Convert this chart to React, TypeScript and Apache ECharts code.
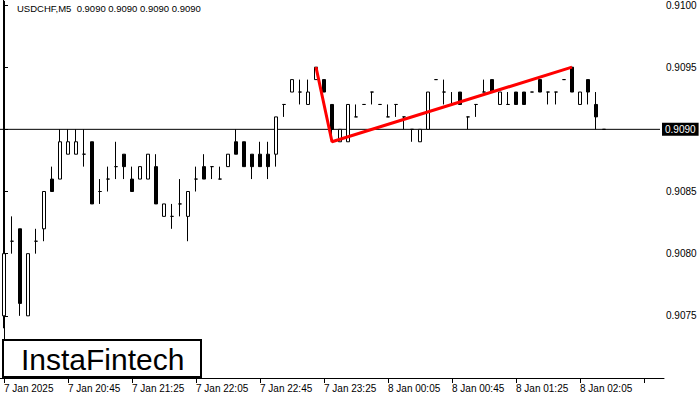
import React, { useEffect, useRef } from "react";
import * as echarts from "echarts";

const FONT = "'Liberation Sans', Arial, sans-serif";

const tickLabels = [
  "7 Jan 2025", "7 Jan 20:45", "7 Jan 21:25", "7 Jan 22:05", "7 Jan 22:45",
  "7 Jan 23:25", "8 Jan 00:05", "8 Jan 00:45", "8 Jan 01:25", "8 Jan 02:05",
];

const opens = [
  0.9075, 0.9081, 0.9082, 0.9075, 0.9081, 0.9082, 0.9086, 0.9086, 0.9088, 0.9088,
  0.9088, 0.9089, 0.9085, 0.9086, 0.9087, 0.9088, 0.9086, 0.9086, 0.9086, 0.9087,
  0.9083, 0.9083, 0.9084, 0.9083, 0.9086, 0.9087, 0.9087, 0.9086, 0.9087, 0.9089,
  0.9089, 0.9088, 0.9088, 0.9088, 0.9088, 0.9092, 0.9093, 0.9093, 0.9092, 0.9094,
  0.9094, 0.9092, 0.9089, 0.9089, 0.9091, 0.9092, 0.9093, 0.9092, 0.9091, 0.9092,
  0.9091, 0.9090, 0.9089, 0.9090, 0.9094, 0.9093, 0.9092, 0.9093, 0.9091, 0.9092,
  0.9093, 0.9094, 0.9092, 0.9092, 0.9093, 0.9093, 0.9093, 0.9094, 0.9093, 0.9093,
  0.9094, 0.9095, 0.9092, 0.9094, 0.9092, 0.9090,
];
const closes = [
  0.9080, 0.9081, 0.9076, 0.9080, 0.9081, 0.9085, 0.9085, 0.9089, 0.9089, 0.9089,
  0.9088, 0.9084, 0.9085, 0.9086, 0.9087, 0.9087, 0.9085, 0.9087, 0.9088, 0.9084,
  0.9084, 0.9083, 0.9084, 0.9085, 0.9086, 0.9086, 0.9087, 0.9086, 0.9088, 0.9088,
  0.9087, 0.9087, 0.9087, 0.9087, 0.9091, 0.9092, 0.9094, 0.9093, 0.9093, 0.9095,
  0.9093, 0.9090, 0.9090, 0.9092, 0.9091, 0.9092, 0.9093, 0.9092, 0.9091, 0.9092,
  0.9091, 0.9090, 0.9090, 0.9093, 0.9094, 0.9093, 0.9092, 0.9092, 0.9091, 0.9092,
  0.9093, 0.9093, 0.9093, 0.9092, 0.9092, 0.9092, 0.9093, 0.9093, 0.9093, 0.9093,
  0.9094, 0.9093, 0.9093, 0.9093, 0.9091, 0.9090,
];
const lows = [
  0.9074, 0.9080, 0.9075, 0.9075, 0.9080, 0.9081, 0.9085, 0.9086, 0.9088, 0.9088,
  0.9087, 0.9084, 0.9084, 0.9085, 0.9086, 0.9086, 0.9085, 0.9086, 0.9086, 0.9084,
  0.9083, 0.9082, 0.9083, 0.9081, 0.9085, 0.9086, 0.9086, 0.9086, 0.9087, 0.9088,
  0.9087, 0.9086, 0.9087, 0.9086, 0.9087, 0.9091, 0.9093, 0.9092, 0.9092, 0.9094,
  0.9093, 0.9089, 0.9089, 0.9089, 0.9091, 0.9092, 0.9092, 0.9092, 0.9091, 0.9091,
  0.9090, 0.9089, 0.9089, 0.9090, 0.9094, 0.9092, 0.9092, 0.9092, 0.9090, 0.9091,
  0.9093, 0.9093, 0.9092, 0.9092, 0.9092, 0.9092, 0.9093, 0.9093, 0.9092, 0.9092,
  0.9094, 0.9093, 0.9092, 0.9092, 0.9090, 0.9090,
];
const highs = [
  0.9101, 0.9083, 0.9082, 0.9080, 0.9082, 0.9085, 0.9087, 0.9090, 0.9090, 0.9090,
  0.9090, 0.9089, 0.9086, 0.9087, 0.9089, 0.9088, 0.9087, 0.9087, 0.9088, 0.9088,
  0.9084, 0.9084, 0.9086, 0.9085, 0.9087, 0.9088, 0.9087, 0.9087, 0.9088, 0.9090,
  0.9089, 0.9088, 0.9089, 0.9089, 0.9091, 0.9092, 0.9094, 0.9094, 0.9094, 0.9095,
  0.9094, 0.9092, 0.9090, 0.9092, 0.9092, 0.9092, 0.9093, 0.9092, 0.9092, 0.9092,
  0.9091, 0.9090, 0.9090, 0.9093, 0.9094, 0.9094, 0.9093, 0.9093, 0.9091, 0.9092,
  0.9094, 0.9094, 0.9093, 0.9093, 0.9093, 0.9093, 0.9093, 0.9094, 0.9093, 0.9093,
  0.9094, 0.9095, 0.9093, 0.9094, 0.9093, 0.9090,
];

// pattern line: bar index and price
const patternIdx = [39, 41, 71];
const patternPrice = [0.9095, 0.9089, 0.9095];

const currentPrice = 0.909;
const TOTAL_SLOTS = 83;

export default function App() {
  const ref = useRef<HTMLDivElement>(null);
  useEffect(() => {
    if (!ref.current) return;
    const chart = echarts.init(ref.current, null, { renderer: "svg" });
    const categories: string[] = [];
    for (let i = 0; i < TOTAL_SLOTS; i++) categories.push(String(i));
    const ohlc = opens.map((o, i) => [o, closes[i], lows[i], highs[i]]);
    const showEvery8 = (i: number) => i % 8 === 0;
    chart.setOption({
      animation: false,
      backgroundColor: "#ffffff",
      grid: { left: 0, right: 36, top: 0, bottom: 22, containLabel: false },
      xAxis: [
        {
          type: "category",
          data: categories,
          boundaryGap: true,
          axisLine: { show: true, lineStyle: { color: "#000", width: 1 } },
          axisTick: {
            show: true,
            alignWithLabel: true,
            interval: (i: number) => showEvery8(i),
            length: 5,
            lineStyle: { color: "#000" },
          },
          axisLabel: {
            interval: (i: number) => showEvery8(i),
            formatter: (_v: string, i: number) => tickLabels[i / 8] ?? "",
            align: "left",
            color: "#000",
            fontSize: 10,
            fontFamily: FONT,
            margin: 5,
          },
          splitLine: { show: false },
        },
        {
          type: "value",
          min: 0,
          max: 1,
          show: false,
        },
      ],
      yAxis: {
        type: "value",
        position: "right",
        min: 0.907,
        max: 0.91003,
        interval: 0.0005,
        offset: -4,
        axisLine: { show: true, lineStyle: { color: "#000", width: 1 } },
        axisTick: { show: true, length: 4, lineStyle: { color: "#000" } },
        axisLabel: {
          formatter: (v: number) => v.toFixed(4),
          color: "#000",
          fontSize: 10,
          fontFamily: FONT,
          margin: 6,
          showMinLabel: false,
        },
        splitLine: { show: false },
      },
      series: [
        {
          type: "line",
          xAxisIndex: 1,
          data: [
            [0, currentPrice],
            [0.994, currentPrice],
          ],
          symbol: "none",
          lineStyle: { color: "#000", width: 1 },
          z: 1,
          endLabel: {
            show: true,
            formatter: () => currentPrice.toFixed(4),
            backgroundColor: "#000",
            color: "#fff",
            fontSize: 10,
            fontFamily: FONT,
            padding: [2, 3, 1, 3],
            distance: 2,
          },
        },
        {
          type: "candlestick",
          data: ohlc,
          barWidth: 4,
          clip: true,
          z: 3,
          itemStyle: {
            color: "#ffffff",
            color0: "#000000",
            borderColor: "#000000",
            borderColor0: "#000000",
            borderColorDoji: "#000000",
            borderWidth: 1,
          },
        },
        {
          type: "line",
          data: patternIdx.map((x, i) => [x, patternPrice[i]]),
          symbol: "none",
          lineStyle: { color: "#ff0000", width: 3 },
          z: 10,
        },
      ],
      graphic: [
        {
          type: "text",
          left: 17,
          top: 3,
          style: {
            text: "USDCHF,M5  0.9090 0.9090 0.9090 0.9090",
            fill: "#000",
            font: `9.5px ${FONT}`,
          },
          z: 20,
        },
        {
          type: "rect",
          shape: { x: 3, y: 340, width: 198, height: 37 },
          style: { fill: "#fff", stroke: "#000", lineWidth: 2 },
          z: 20,
        },
        {
          type: "text",
          x: 21,
          y: 359,
          style: {
            text: "InstaFintech",
            fill: "#000",
            font: `30px ${FONT}`,
            textVerticalAlign: "middle",
          },
          z: 21,
        },
      ],
    });
    return () => chart.dispose();
  }, []);
  return (
    <div
      ref={ref}
      style={{ position: "fixed", left: 0, top: 0, width: 700, height: 400, background: "#fff" }}
    />
  );
}
